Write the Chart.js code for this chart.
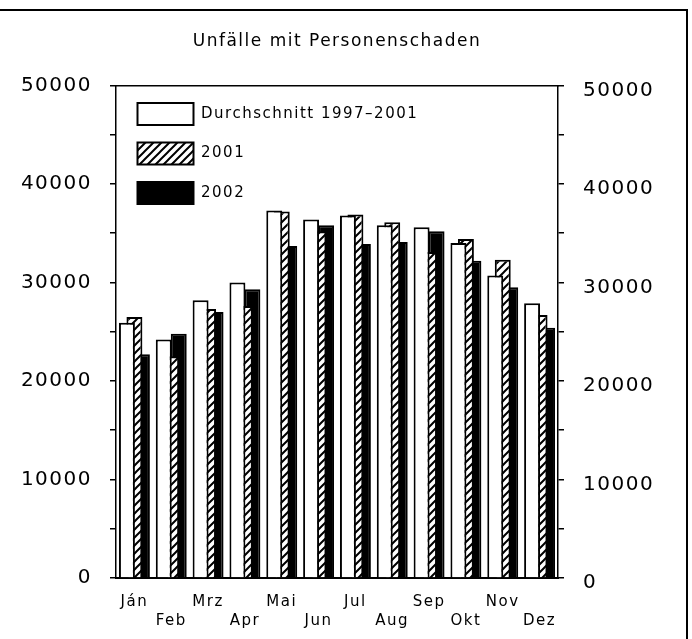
<!DOCTYPE html>
<html>
<head>
<meta charset="utf-8">
<script src="https://cdn.jsdelivr.net/npm/chart.js@4"></script>
<style>
    html, body { margin: 0; padding: 0; background: #fff; overflow: hidden; }
    #wrap { position: relative; width: 692px; height: 639px; }
    #frame {
        position: absolute; left: -3px; top: 9px; width: 691px; height: 640px;
        box-sizing: border-box; border: 2px solid #000; pointer-events: none;
    }
</style>
</head>
<body>
<div id="wrap">
    <canvas id="chart"></canvas>
    <div id="frame"></div>
</div>
<script>
// Monthly accident counts
const months = ["Ján", "Feb", "Mrz", "Apr", "Mai", "Jun", "Jul", "Aug", "Sep", "Okt", "Nov", "Dez"];
const average = [25900, 24200, 28200, 30000, 37300, 36400, 36800, 35800, 35600, 34000, 30700, 27900];
const year2001 = [26500, 22500, 27300, 27600, 37200, 35200, 36900, 36100, 33100, 34400, 32300, 26700];
const year2002 = [22700, 24800, 27000, 29300, 33700, 35800, 33900, 34100, 35200, 32200, 29500, 25400];
const seriesNames = ["Durchschnitt 1997–2001", "2001", "2002"];
const yMax = 50000;

document.addEventListener("DOMContentLoaded", () => {
    const canvas = document.getElementById("chart");

    // Diagonal hatch pattern for the 2001 bars
    function makeHatch() {
        const size = 8;
        const p = document.createElement("canvas");
        p.width = size;
        p.height = size;
        const c = p.getContext("2d");
        c.fillStyle = "#fff";
        c.fillRect(0, 0, size, size);
        c.strokeStyle = "#000";
        c.lineWidth = 2;
        c.beginPath();
        c.moveTo(0, size); c.lineTo(size, 0);
        c.moveTo(-2, 2); c.lineTo(2, -2);
        c.moveTo(size - 2, size + 2); c.lineTo(size + 2, size - 2);
        c.stroke();
        return c.createPattern(p, "repeat");
    }

    const font = "'DejaVu Sans', sans-serif";

    // wider letter spacing, like the old plotter font
    const spacing = {
        id: "spacing",
        beforeDraw(chart) { chart.ctx.letterSpacing = "1.5px"; }
    };

    // a vertical legend in the chart area starts at top 0, move it inside the plot
    const legendInside = {
        id: "legendInside",
        afterLayout(chart) {
            const l = chart.legend;
            if (!l) return;
            const dy = chart.chartArea.top - l.top;
            l.top += dy;
            l.bottom += dy;
            l.left += 4;
            l.right += 4;
            l.adjustHitBoxes();
        }
    };

    const barCommon = {
        borderColor: "#000",
        borderWidth: 2,
        categoryPercentage: 0.61,
        barPercentage: 2.13
    };

    const yTicks = (v) => (v % 10000 === 0 ? String(v) : "");

    new Chart(canvas, {
        type: "bar",
        data: {
            labels: months,
            datasets: [
                { label: seriesNames[0], data: average, backgroundColor: "#fff", ...barCommon },
                { label: seriesNames[1], data: year2001, backgroundColor: makeHatch(), ...barCommon },
                { label: seriesNames[2], data: year2002, backgroundColor: "#000", ...barCommon }
            ]
        },
        options: {
            responsive: true,
            maintainAspectRatio: false,
            animation: false,
            layout: { padding: { top: 20, left: 0, right: 0, bottom: 0 } },
            plugins: {
                title: {
                    display: true,
                    fullSize: false,
                    text: "Unfälle mit Personenschaden",
                    color: "#000",
                    font: { family: font, size: 17, weight: "normal" },
                    padding: { top: 11, bottom: 34 }
                },
                legend: {
                    position: "chartArea",
                    align: "start",
                    labels: {
                        color: "#000",
                        font: { family: font, size: 15 },
                        boxWidth: 56,
                        boxHeight: 22,
                        padding: 17.5
                    }
                },
                tooltip: { enabled: false }
            },
            scales: {
                x: {
                    position: "bottom",
                    grid: { display: false, drawTicks: false },
                    border: { display: true, color: "#000", width: 2 },
                    ticks: {
                        color: "#000",
                        font: { family: font, size: 15, lineHeight: 1.25 },
                        padding: 15,
                        autoSkip: false,
                        maxRotation: 0,
                        callback: (v, i) => (i % 2 ? ["", months[i]] : months[i])
                    },
                    afterFit: (s) => { s.height = 61; }
                },
                xTop: {
                    type: "category",
                    position: "top",
                    grid: { display: false, drawTicks: false },
                    border: { display: true, color: "#000", width: 1.5 },
                    ticks: { display: false }
                },
                y: {
                    position: "left",
                    min: 0,
                    max: yMax,
                    grid: { drawOnChartArea: false, color: "#000", lineWidth: 1.5, tickLength: 6 },
                    border: { color: "#000", width: 1.5 },
                    ticks: {
                        stepSize: 5000,
                        color: "#000",
                        font: { family: font, size: 20 },
                        padding: 18,
                        callback: yTicks
                    },
                    afterFit: (s) => { s.width = 116; }
                },
                y2: {
                    position: "right",
                    min: 0,
                    max: yMax,
                    grid: { drawOnChartArea: false, color: "#000", lineWidth: 1.5, tickLength: 6 },
                    border: { color: "#000", width: 1.5 },
                    ticks: {
                        stepSize: 5000,
                        color: "#000",
                        font: { family: font, size: 20 },
                        padding: 19,
                        labelOffset: 5,
                        callback: yTicks
                    },
                    afterFit: (s) => { s.width = 134; }
                }
            }
        },
        plugins: [spacing, legendInside]
    });
});
</script>
</body>
</html>
